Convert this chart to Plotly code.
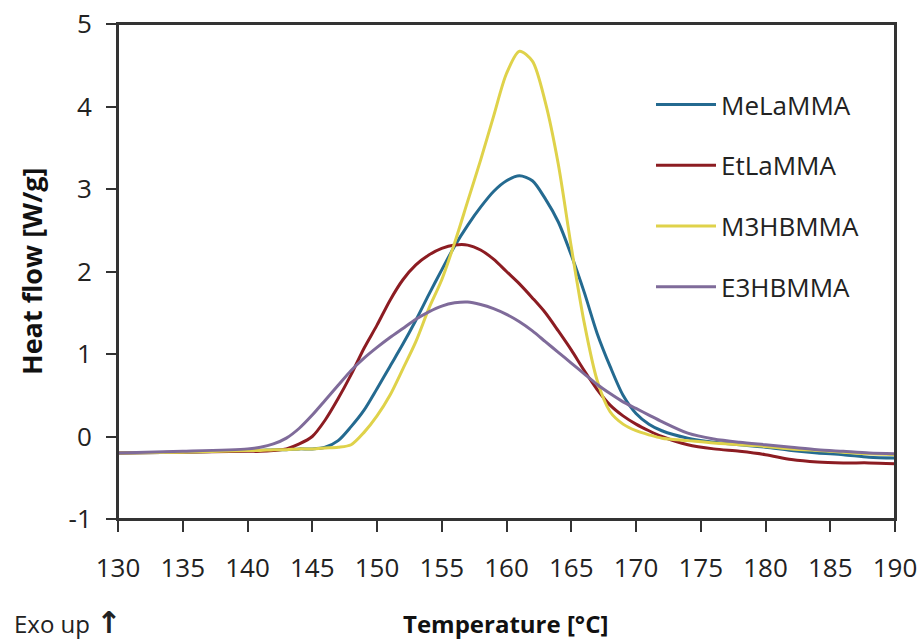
import plotly.graph_objects as go

# Temperature [°C]
temp = [130, 135, 140, 141, 142, 143, 144, 145, 146, 147, 148, 149, 150, 151, 152, 153, 154,
        155, 156, 157, 158, 159, 160, 161, 162, 163, 164, 165, 166, 167, 168, 169, 170,
        171, 172, 174, 176, 178, 180, 182, 184, 186, 188, 190]

# Heat flow [W/g]
mela = [-0.20, -0.19, -0.17, -0.17, -0.16, -0.16, -0.15, -0.15, -0.13, -0.05, 0.12, 0.32, 0.58,
        0.85, 1.12, 1.41, 1.72, 2.02, 2.31, 2.56, 2.78, 2.97, 3.10, 3.16, 3.10, 2.88, 2.60,
        2.20, 1.75, 1.25, 0.85, 0.50, 0.28, 0.15, 0.07, -0.02, -0.07, -0.10, -0.13, -0.17,
        -0.20, -0.22, -0.25, -0.26]
etla = [-0.20, -0.19, -0.18, -0.18, -0.17, -0.15, -0.09, 0.00, 0.20, 0.46, 0.75, 1.07, 1.35,
        1.65, 1.90, 2.08, 2.20, 2.28, 2.32, 2.32, 2.26, 2.15, 2.00, 1.85, 1.68, 1.50, 1.28,
        1.05, 0.80, 0.57, 0.38, 0.25, 0.15, 0.07, 0.00, -0.10, -0.15, -0.18, -0.22, -0.28,
        -0.31, -0.32, -0.32, -0.33]
m3hb = [-0.20, -0.19, -0.17, -0.17, -0.16, -0.16, -0.15, -0.15, -0.14, -0.13, -0.10, 0.05, 0.25,
        0.50, 0.82, 1.15, 1.55, 1.90, 2.35, 2.85, 3.35, 3.88, 4.40, 4.67, 4.55, 4.05, 3.30,
        2.30, 1.38, 0.68, 0.30, 0.15, 0.07, 0.02, -0.02, -0.05, -0.08, -0.10, -0.12, -0.15,
        -0.17, -0.19, -0.21, -0.22]
e3hb = [-0.20, -0.18, -0.15, -0.13, -0.09, -0.02, 0.10, 0.26, 0.44, 0.62, 0.80, 0.95, 1.08,
        1.20, 1.31, 1.42, 1.51, 1.58, 1.62, 1.63, 1.60, 1.55, 1.48, 1.39, 1.28, 1.15, 1.02,
        0.89, 0.76, 0.63, 0.52, 0.42, 0.34, 0.26, 0.18, 0.04, -0.03, -0.07, -0.10, -0.13,
        -0.16, -0.18, -0.20, -0.21]

names = ["MeLaMMA", "EtLaMMA", "M3HBMMA", "E3HBMMA"]
series = [mela, etla, m3hb, e3hb]
colors = ["#246A90", "#8C1C22", "#DFD24A", "#7F6B9A"]

x_ticks = [130, 135, 140, 145, 150, 155, 160, 165, 170, 175, 180, 185, 190]
y_ticks = [-1, 0, 1, 2, 3, 4, 5]

FONT = "Open Sans"
W, H = 920, 641
L, T = 118, 24
PW, PH = 895 - 118, 519 - 24
R, B = W - L - PW, H - T - PH
AXC = "#333333"


def px_x(wx):
    return (wx - L) / PW


def px_y(wy):
    return (T + PH - wy) / PH


fig = go.Figure()
for nm, ys, c in zip(names, series, colors):
    fig.add_trace(go.Scatter(
        x=temp, y=ys, mode="lines", name=nm, legendgroup=nm,
        line=dict(color=c, width=3, shape="spline", smoothing=0.8),
    ))

fig.update_layout(
    width=W, height=H,
    margin=dict(l=L, r=R, t=T, b=B, autoexpand=False),
    paper_bgcolor="white", plot_bgcolor="white",
    font=dict(family=FONT, size=26, color="#222222"),
    showlegend=True,
    legend=dict(
        x=px_x(651), y=px_y(81), xanchor="left", yanchor="top",
        bgcolor="rgba(0,0,0,0)", tracegroupgap=24,
        font=dict(family=FONT, size=26, color="#222222"),
        itemwidth=60,
    ),
    xaxis=dict(
        range=[130, 190], tickvals=x_ticks, ticktext=[str(v) for v in x_ticks],
        showgrid=False, zeroline=False, showline=True, linecolor=AXC, linewidth=2,
        mirror=True, ticks="outside", ticklen=11, tickwidth=2, tickcolor=AXC,
        ticklabelstandoff=14, automargin=False,
        tickfont=dict(family=FONT, size=26, color="#222222"),
    ),
    yaxis=dict(
        range=[-1, 5], tickvals=y_ticks, ticktext=[str(v) for v in y_ticks],
        showgrid=False, zeroline=False, showline=True, linecolor=AXC, linewidth=2,
        mirror=True, ticks="outside", ticklen=10, tickwidth=2, tickcolor=AXC,
        ticklabelstandoff=9, automargin=False,
        tickfont=dict(family=FONT, size=26, color="#222222"),
    ),
    shapes=[
        dict(type="rect", xref="paper", yref="paper", x0=0, x1=1, y0=0, y1=1,
             line=dict(color=AXC, width=2), fillcolor="rgba(0,0,0,0)", layer="above"),
    ],
    annotations=[
        dict(text="<b>Temperature [°C]</b>", xref="paper", yref="paper",
             x=px_x(505), y=px_y(623), xanchor="center", yanchor="middle",
             showarrow=False, font=dict(family=FONT, size=24, color="#111111")),
        dict(text="<b>Heat flow [W/g]</b>", xref="paper", yref="paper",
             x=px_x(31), y=px_y(271), xanchor="center", yanchor="middle", textangle=-90,
             showarrow=False, font=dict(family=FONT, size=27, color="#111111")),
        dict(text="Exo up <span style='font-family:DejaVu Sans;font-size:30px'><b>↑</b></span>",
             xref="paper", yref="paper",
             x=px_x(12), y=px_y(622), xanchor="left", yanchor="middle",
             showarrow=False, font=dict(family=FONT, size=24, color="#222222")),
    ],
)

fig.write_html(
    "out.html",
    config={"displayModeBar": False},
    post_script="document.body.style.margin='0';document.body.style.overflow='hidden';",
)
